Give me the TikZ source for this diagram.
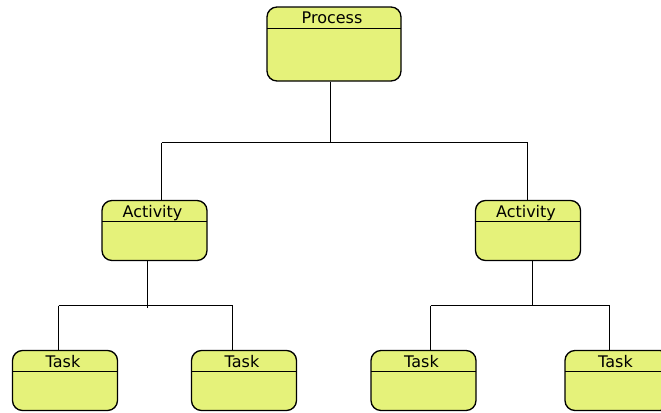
\documentclass[tikz,border=0pt]{standalone}
\usepackage{fontspec}
\setmainfont{DejaVu Sans}
\usepackage{tikz}

\definecolor{boxfill}{RGB}{229,242,122}

\tikzset{
    stagebox/.style={draw, line width=1pt, fill=boxfill, rounded corners=7.5pt,
        inner sep=0pt, minimum width=78.75pt, minimum height=45pt,
        path picture={\draw[line width=0.7pt]
            ([yshift=-15.75pt]path picture bounding box.north west) --
            ([yshift=-15.75pt]path picture bounding box.north east);}},
    title/.style={label={[anchor=base, xshift=-1.5pt, yshift=-12.9pt, inner sep=0pt,
        font=\fontsize{12}{14}\selectfont]north:#1}},
    link/.style={draw, line width=0.8pt}
}

\begin{document}
\begin{tikzpicture}[x=0.75pt, y=-0.75pt]
            \useasboundingbox (0, 0) rectangle (661, 412);

            % boxes
            \node[stagebox, minimum width=100.5pt, minimum height=55.5pt, title=Process] (proc) at (334, 44) {};
            \node[stagebox, title=Activity] (actL) at (154.5, 230.5) {};
            \node[stagebox, title=Activity] (actR) at (528, 230.5) {};
            \foreach \x[count=\i] in {65, 244, 423.5, 617.5} {
                \node[stagebox, title=Task] (task\i) at (\x, 380.5) {};
            }

            % bus lines
            \coordinate (busL) at (161.5, 142.5);
            \coordinate (busR) at (527.5, 142.5);
            \coordinate (busA) at (58.5, 305.5);
            \coordinate (busB) at (232.5, 305.5);
            \coordinate (busC) at (430.5, 305.5);
            \coordinate (busD) at (609.5, 305.5);

            \draw[link] (busL) -- (busR);
            \draw[link] ([xshift=-2.6pt]proc.south) -- ([xshift=-2.6pt]proc.south |- busL);
            \draw[link] (busL) -- (busL |- actL.north);
            \draw[link] (busR) -- (busR |- actR.north);

            \draw[link] (busA) -- (busB);
            \draw[link] ([xshift=-5.3pt]actL.south) -- ([xshift=-5.3pt,yshift=-1.5pt]actL.south |- busA);
            \draw[link] (busA) -- (busA |- task1.north);
            \draw[link] (busB) -- (busB |- task2.north);

            \draw[link] (busC) -- (busD);
            \draw[link] ([xshift=3.4pt]actR.south) -- ([xshift=3.4pt]actR.south |- busC);
            \draw[link] (busC) -- (busC |- task3.north);
            \draw[link] (busD) -- (busD |- task4.north);
        \end{tikzpicture}
\end{document}
